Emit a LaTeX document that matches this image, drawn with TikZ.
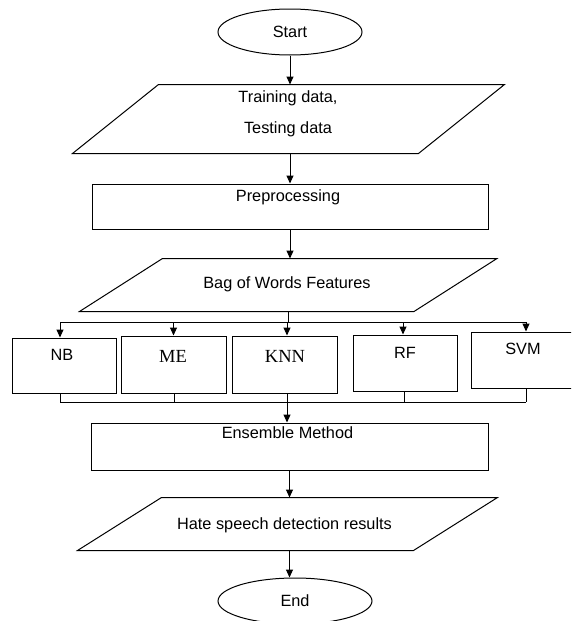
\documentclass[tikz,border=0pt]{standalone}
\usepackage{fontspec}
\setmainfont{Liberation Sans}
\newfontfamily\serifnm{Liberation Serif}
\usetikzlibrary{arrows.meta,shapes.geometric}
\begin{document}
\begin{tikzpicture}[x=1pt,y=-1pt,
  line width=1pt,
  arr/.style={-{Triangle[length=8pt,width=7pt]}},
  box/.style={draw, rectangle, inner sep=0pt},
  term/.style={draw, ellipse, inner sep=0pt, font=\fontsize{16.3}{19}\selectfont},
  para/.style={rectangle, inner sep=0pt},
  lbl/.style={anchor=base, inner sep=0pt, font=\fontsize{16.3}{19}\selectfont},
  slbl/.style={anchor=base, inner sep=0pt, font=\serifnm\fontsize{18.5}{22}\selectfont},
]
\useasboundingbox (0,0) rectangle (571,621);
\clip (0,0) rectangle (571,621);

% terminals
\node[term, minimum width=144pt, minimum height=46pt] (start) at (290,32) {Start};
\node[term, minimum width=154pt, minimum height=46pt] (end) at (295,601) {End};

% input parallelogram
\node[para, minimum width=345pt, minimum height=68pt] (td) at (288.5,119) {};
\draw ([xshift=43pt]td.north west) -- ([xshift=43pt]td.north east)
   -- ([xshift=-43pt]td.south east) -- ([xshift=-43pt]td.south west) -- cycle;
\node[lbl] (td1) at (288,102.6) {Training data,};
\node[lbl] (td2) at (288,133.6) {Testing data};

% preprocessing
\node[box, minimum width=396pt, minimum height=45pt] (pp) at (290,206.5) {};
\node[lbl] (pptx) at (288,201.5) {Preprocessing};

% bag of words
\node[para, minimum width=333.5pt, minimum height=52pt] (bow) at (288.25,285) {};
\draw ([xshift=41.5pt]bow.north west) -- ([xshift=41.5pt]bow.north east)
   -- ([xshift=-41.5pt]bow.south east) -- ([xshift=-41.5pt]bow.south west) -- cycle;
\node[lbl] (bowtx) at (287,288.8) {Bag of Words Features};

% classifiers
\node[box, minimum width=104pt, minimum height=55pt] (nb) at (64,365.5) {};
\node[lbl] (nbtx) at (62,360.8) {NB};
\node[box, minimum width=105pt, minimum height=57pt] (me) at (173.5,364.5) {};
\node[slbl] (metx) at (173,362) {ME};
\node[box, minimum width=105pt, minimum height=57pt] (knn) at (284.5,364.5) {};
\node[slbl] (knntx) at (285,362) {KNN};
\node[box, minimum width=104pt, minimum height=56pt] (rf) at (405,363) {};
\node[lbl] (rftx) at (405,358.8) {RF};
\node[box, minimum width=105pt, minimum height=56pt] (svm) at (523.5,360) {};
\node[lbl] (svmtx) at (523,354.8) {SVM};

% ensemble
\node[box, minimum width=397pt, minimum height=47pt] (ens) at (289.5,446.5) {};
\node[lbl] (enstx) at (287.5,438.8) {Ensemble Method};

% results parallelogram
\node[para, minimum width=335pt, minimum height=52pt] (hate) at (287.5,524) {};
\draw ([xshift=42pt]hate.north west) -- ([xshift=42pt]hate.north east)
   -- ([xshift=-42pt]hate.south east) -- ([xshift=-42pt]hate.south west) -- cycle;
\node[lbl] (hatetx) at (284.5,529.8) {Hate speech detection results};

% connectors
\draw[arr] (start.south) -- (start.south |- td.north);
\draw[arr] (td.south -| pp.north) -- (pp.north);
\draw[arr] (pp.south) -- (pp.south |- bow.north);

\coordinate (busT) at (288,322);
\coordinate (busL) at (60,322);
\coordinate (busR) at (526,322);
\coordinate (knnin) at ([xshift=2.5pt]knn.north);
\coordinate (rfin) at ([xshift=-2pt]rf.north);
\draw (bow.south) -- (bow.south |- busT);
\draw (busL) -- (busR);
\draw[arr] (busL) -- (busL |- nb.north);
\draw[arr] (me.north |- busT) -- (me.north);
\draw[arr] (knnin |- busT) -- (knnin);
\draw[arr] (rfin |- busT) -- (rfin);
\draw[arr] (busR) -- (busR |- svm.north);

\coordinate (bbL) at (60,402);
\coordinate (bbR) at (526,402);
\coordinate (meout) at ([xshift=0.5pt]me.south);
\coordinate (rfout) at ([xshift=-1pt]rf.south);
\coordinate (knnout) at ([xshift=2.5pt]knn.south);
\draw (bbL) -- (bbR);
\draw (nb.south -| bbL) -- (bbL);
\draw (meout) -- (meout |- bbL);
\draw (rfout) -- (rfout |- bbL);
\draw (svm.south -| bbR) -- (bbR);
\draw[arr] (knnout) -- (knnout |- ens.north);

\draw[arr] (ens.south) -- (ens.south |- hate.north);
\draw[arr] (hate.south -| ens.south) -- (ens.south |- end.north);
\end{tikzpicture}
\end{document}
